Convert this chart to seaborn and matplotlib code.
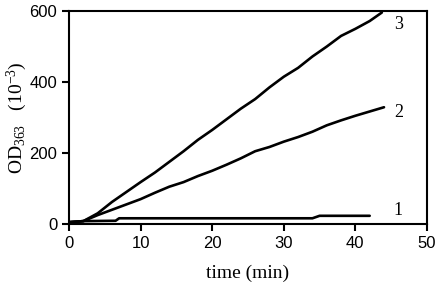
import matplotlib
matplotlib.use("Agg")
import matplotlib.pyplot as plt
import seaborn as sns
import pandas as pd

t3 = [0, 2, 4, 6, 8, 10, 12, 14, 16, 18, 20, 22, 24, 26, 28, 30, 32, 34, 36, 38, 40, 42, 43.7]
od3 = [5, 8, 30, 62, 90, 118, 145, 175, 205, 237, 265, 295, 325, 352, 385, 415, 440, 472, 500, 530, 550, 572, 596]

t2 = [0, 2, 4, 6, 8, 10, 12, 14, 16, 18, 20, 22, 24, 26, 28, 30, 32, 34, 36, 38, 40, 42, 44]
od2 = [5, 8, 25, 40, 55, 70, 88, 105, 118, 135, 150, 167, 185, 205, 217, 232, 245, 260, 278, 292, 305, 317, 329]

t1 = [0, 2, 6.5, 7, 34, 35, 42]
od1 = [5, 8, 9, 16, 16, 23, 23]

curve_labels = ["1", "2", "3"]
label_x = [46, 46, 46]
label_y = [37, 313, 563]

sns.set_style("ticks")
plt.rcParams["font.family"] = ["Liberation Sans", "DejaVu Sans"]
plt.rcParams["mathtext.fontset"] = "custom"
plt.rcParams["mathtext.rm"] = "Liberation Serif"
plt.rcParams["mathtext.it"] = "Liberation Serif:italic"
for k in ["text.color", "axes.labelcolor", "xtick.color", "ytick.color", "axes.edgecolor"]:
    plt.rcParams[k] = "black"

fig = plt.figure(figsize=(4.37, 2.92), dpi=100)
ax = fig.add_axes([0.158, 0.233, 0.819, 0.729])

for t, od in [(t1, od1), (t2, od2), (t3, od3)]:
    df = pd.DataFrame({"t": t, "od": od})
    sns.lineplot(data=df, x="t", y="od", ax=ax, color="black", linewidth=1.9,
                 estimator=None, sort=False)

for lab, x, y in zip(curve_labels, label_x, label_y):
    ax.text(x, y, lab, fontsize=13, family="Liberation Serif", ha="center", va="center")

ax.set_xlim(0, 50)
ax.set_ylim(0, 600)
ax.set_xticks([0, 10, 20, 30, 40, 50])
ax.set_yticks([0, 200, 400, 600])
ax.tick_params(labelsize=12, width=1.5, length=5, direction="out")
for s in ax.spines.values():
    s.set_linewidth(1.5)
    s.set_visible(True)

ax.set_xlabel("time (min)", fontsize=14, family="Liberation Serif", labelpad=10)
ax.set_ylabel(r"OD$_{363}$   (10$^{-3}$)", fontsize=14, family="Liberation Serif", labelpad=0)

fig.savefig("out.png", dpi=100)
